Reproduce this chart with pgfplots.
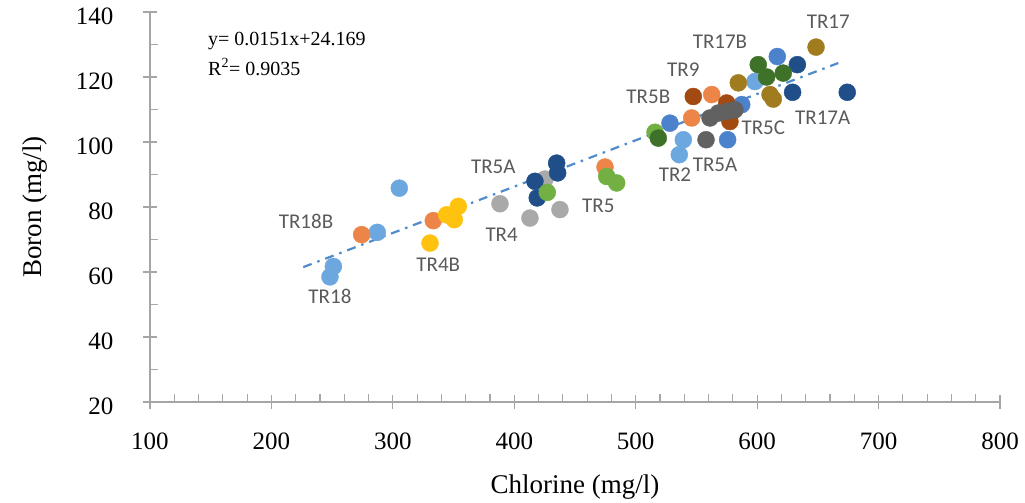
\documentclass[border=0pt]{standalone}
\usepackage{fontspec}
\setmainfont{Liberation Serif}
\newfontfamily\lblfont{Carlito}
\usepackage{pgfplots}
\pgfplotsset{compat=1.18}
\definecolor{axisgray}{HTML}{A6A6A6}
\definecolor{lblgray}{HTML}{5A5A5A}
\definecolor{clightblue}{HTML}{6DA7DF}
\definecolor{corange}{HTML}{EE8548}
\definecolor{cyellow}{HTML}{FFC20E}
\definecolor{cgray}{HTML}{A9A9A9}
\definecolor{cnavy}{HTML}{1F4E89}
\definecolor{cgreen}{HTML}{72B043}
\definecolor{cdarkgreen}{HTML}{3F7229}
\definecolor{cblue}{HTML}{4C82CC}
\definecolor{cbrown}{HTML}{A34A12}
\definecolor{cdarkgray}{HTML}{616161}
\definecolor{colive}{HTML}{A07C1E}
\definecolor{ctrend}{HTML}{4F8CC9}
\begin{document}
\begin{tikzpicture}
\begin{axis}[
  scale only axis, width=850pt, height=390pt,
  xmin=100, xmax=800, ymin=20, ymax=140,
  axis x line=bottom, axis y line=left,
  axis line style={-, draw=axisgray, line width=1.5pt},
  xtick={100,200,...,800}, ytick={20,40,...,140},
  minor x tick num=4, minor y tick num=1,
  tick align=center,
  major tick length=14pt, minor tick length=8pt,
  tick style={axisgray, line width=1.2pt},
  minor x tick style={yshift=4pt}, minor y tick style={xshift=4pt},
  tick label style={font=\fontsize{25}{28}\selectfont},
  /pgf/number format/assume math mode=true,
  xticklabel style={yshift=-20pt},
  yticklabel style={xshift=-26pt, yshift=-4pt},
  xlabel={Chlorine (mg/l)}, ylabel={Boron (mg/l)},
  label style={font=\fontsize{27}{30}\selectfont},
  xlabel style={at={(axis description cs:0.5,0)}, anchor=center, yshift=-85pt},
  ylabel style={at={(axis description cs:0,0.5)}, anchor=center, yshift=115pt},
  clip=false,
  every axis plot/.append style={only marks, mark=*, mark size=8.5pt},
]
\addplot[mark options={draw=clightblue, fill=clightblue}] coordinates {(251.0,61.7) (248.2,58.5) (305.3,85.8) (287.2,72.2) (539.2,100.7) (535.9,96.1) (598.2,118.6)};
\addplot[mark options={draw=corange, fill=corange}] coordinates {(274.3,71.5) (333.3,75.8) (474.7,92.3) (546.1,107.4) (562.6,114.6)};
\addplot[mark options={draw=cyellow, fill=cyellow}] coordinates {(344.3,77.6) (353.9,80.2) (350.6,76.1) (330.6,68.9)};
\addplot[mark options={draw=cgray, fill=cgray}] coordinates {(388.2,81.0) (412.9,76.6) (437.6,79.2) (425.3,88.6)};
\addplot[mark options={draw=cgreen, fill=cgreen}] coordinates {(476.1,89.4) (484.3,87.4) (515.9,103.0)};
\addplot[mark options={draw=cnavy, fill=cnavy}] coordinates {(434.9,93.5) (435.7,90.5) (417.0,87.9) (418.9,82.8) (633.1,123.8) (629.2,115.3) (674.2,115.3)};
\addplot[mark options={draw=cgreen, fill=cgreen}] coordinates {(427.2,84.5)};
\addplot[mark options={draw=cdarkgreen, fill=cdarkgreen}] coordinates {(518.6,101.2) (600.9,123.8) (607.8,120.0) (621.5,121.2)};
\addplot[mark options={draw=cblue, fill=cblue}] coordinates {(528.2,105.8) (587.3,111.5) (575.7,100.7) (616.6,126.3)};
\addplot[mark options={draw=cbrown, fill=cbrown}] coordinates {(547.4,114.0) (574.9,112.0) (577.6,106.3)};
\addplot[mark options={draw=cdarkgray, fill=cdarkgray}] coordinates {(561.2,107.4) (568.0,108.9) (574.9,109.4) (581.7,109.9) (557.9,100.7)};
\addplot[mark options={draw=colive, fill=colive}] coordinates {(584.5,118.2) (610.6,114.6) (613.3,113.2) (648.5,129.2)};
\addplot[no marks, sharp plot, draw=ctrend, line width=2.2pt, dash pattern=on 9pt off 6pt on 2.5pt off 6pt] coordinates {(226.2,61.5) (666.8,124.3)};
\node[anchor=west, font=\fontsize{20}{22}\selectfont] at (axis cs:145,131) {y= 0.0151x+24.169};
\node[anchor=west, font=\fontsize{20}{22}\selectfont] at (axis cs:145,123) {R\textsuperscript{2}= 0.9035};
\begin{scope}[every node/.style={font=\lblfont\fontsize{21}{24}\selectfont, text=lblgray}]
\node at (axis cs:248.2,52.5) {TR18};
\node at (axis cs:228.5,75.5) {TR18B};
\node at (axis cs:337.4,62.2) {TR4B};
\node at (axis cs:382.7,92.5) {TR5A};
\node at (axis cs:389.6,71.5) {TR4};
\node at (axis cs:469.2,80.4) {TR5};
\node at (axis cs:510.4,114.0) {TR5B};
\node at (axis cs:539.2,122.2) {TR9};
\node at (axis cs:569.4,131.0) {TR17B};
\node at (axis cs:658.6,137.1) {TR17};
\node at (axis cs:654.0,107.4) {TR17A};
\node at (axis cs:605.1,104.3) {TR5C};
\node at (axis cs:565.3,93.0) {TR5A};
\node at (axis cs:532.3,89.9) {TR2};
\end{scope}
\end{axis}
\path (current axis.south west) +(-150pt,-97pt) (current axis.north east) +(25pt,12pt);
\end{tikzpicture}
\end{document}
